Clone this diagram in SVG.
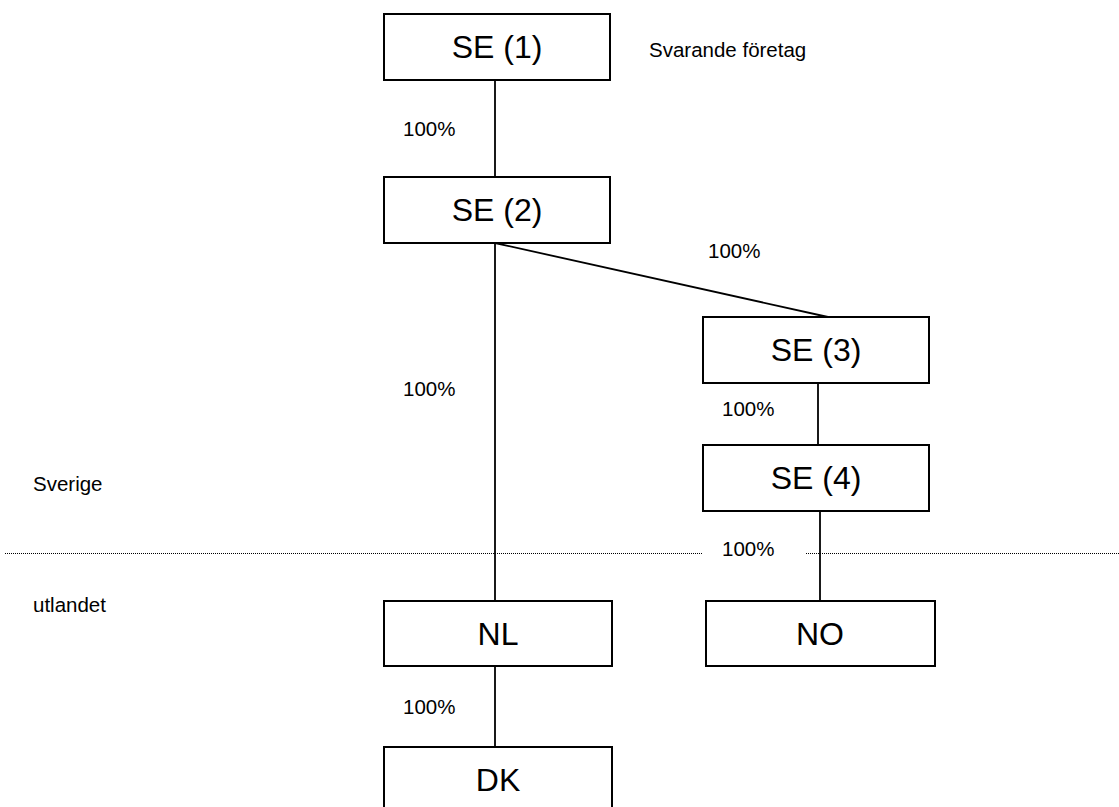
<svg xmlns="http://www.w3.org/2000/svg" width="1119" height="807" viewBox="0 0 1119 807">
<style>
.box{fill:#fff;stroke:#000;stroke-width:2}
.bt{font-family:"Liberation Sans",Arial,sans-serif;font-size:32px;text-anchor:middle;fill:#000}
.lb{font-family:"Liberation Sans",Arial,sans-serif;font-size:20.5px;fill:#000}
.c{stroke:#000;stroke-width:1.8;fill:none}
.dot{stroke:#000;stroke-width:1;stroke-dasharray:1 1;fill:none}
</style>
<rect width="1119" height="807" fill="#fff"/>
<g id="connectors">
<line class="c" x1="495" y1="80" x2="495" y2="177"/>
<line class="c" x1="495" y1="243" x2="495" y2="601"/>
<line class="c" x1="495" y1="243" x2="828" y2="317"/>
<line class="c" x1="818" y1="383" x2="818" y2="445"/>
<line class="c" x1="820" y1="511" x2="820" y2="601"/>
<line class="c" x1="495" y1="666" x2="495" y2="747"/>
</g>
<g id="divider">
<line class="dot" x1="5" y1="553.5" x2="703" y2="553.5"/>
<line class="dot" x1="806" y1="553.5" x2="1119" y2="553.5"/>
</g>
<g id="se1"><rect class="box" x="384" y="14" width="226" height="66"/><text class="bt" x="497" y="58">SE (1)</text></g>
<g id="se2"><rect class="box" x="384" y="177" width="226" height="66"/><text class="bt" x="497" y="221">SE (2)</text></g>
<g id="se3"><rect class="box" x="703" y="317" width="226" height="66"/><text class="bt" x="816" y="361">SE (3)</text></g>
<g id="se4"><rect class="box" x="703" y="445" width="226" height="66"/><text class="bt" x="816" y="489">SE (4)</text></g>
<g id="nl"><rect class="box" x="384" y="601" width="228" height="65"/><text class="bt" x="498" y="645">NL</text></g>
<g id="no"><rect class="box" x="706" y="601" width="229" height="65"/><text class="bt" x="820" y="645">NO</text></g>
<g id="dk"><rect class="box" x="384" y="747" width="228" height="70"/><text class="bt" x="498" y="791">DK</text></g>
<g id="labels">
<text class="lb" x="649" y="57">Svarande företag</text>
<text class="lb" x="403" y="136">100%</text>
<text class="lb" x="708" y="258">100%</text>
<text class="lb" x="403" y="396">100%</text>
<text class="lb" x="722" y="416">100%</text>
<text class="lb" x="722" y="556">100%</text>
<text class="lb" x="403" y="714">100%</text>
<text class="lb" x="33" y="491">Sverige</text>
<text class="lb" x="33" y="612">utlandet</text>
</g>
</svg>
